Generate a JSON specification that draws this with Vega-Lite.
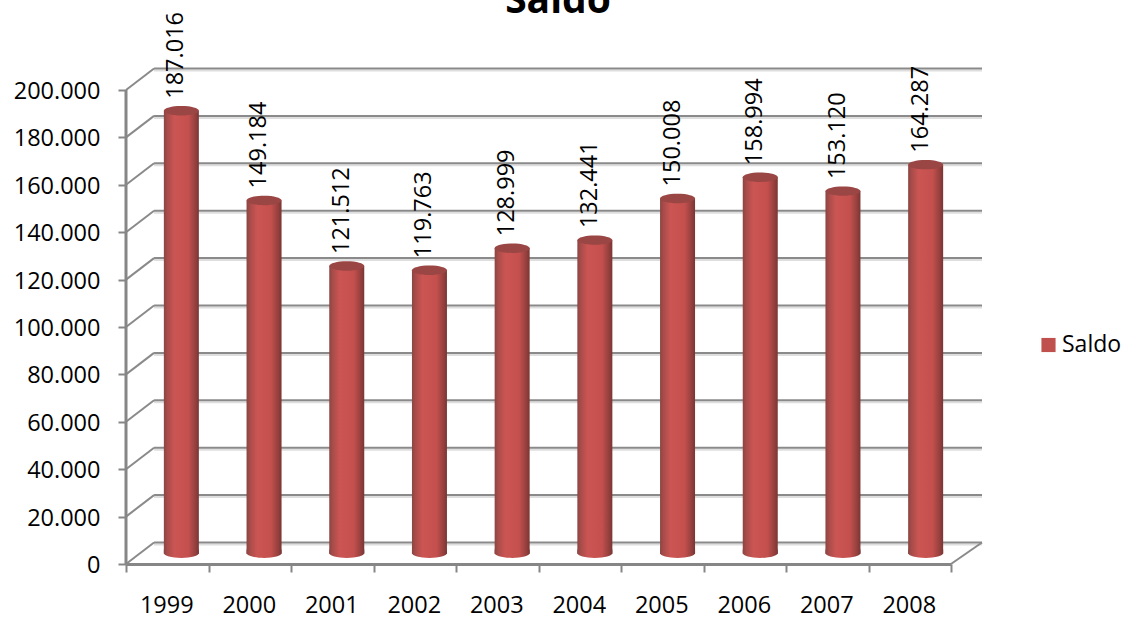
{
"$schema":"https://vega.github.io/schema/vega-lite/v6.json",
"width":856,"height":495,
"autosize":{"type":"none"},
"padding":{"left":126,"top":69,"right":152,"bottom":57},
"background":"#ffffff",
"config":{"view":{"stroke":null},"font":"Open Sans"},
"title":{"text":"Saldo","font":"Open Sans","fontSize":39,"fontWeight":"bold","color":"#000000","anchor":"middle","frame":"group","offset":-40,"dx":4,"baseline":"alphabetic"},
"datasets":{
"bars":[
{"ano":"1999","saldo":187016,"rotulo":"187.016","serie":"Saldo"},
{"ano":"2000","saldo":149184,"rotulo":"149.184","serie":"Saldo"},
{"ano":"2001","saldo":121512,"rotulo":"121.512","serie":"Saldo"},
{"ano":"2002","saldo":119763,"rotulo":"119.763","serie":"Saldo"},
{"ano":"2003","saldo":128999,"rotulo":"128.999","serie":"Saldo"},
{"ano":"2004","saldo":132441,"rotulo":"132.441","serie":"Saldo"},
{"ano":"2005","saldo":150008,"rotulo":"150.008","serie":"Saldo"},
{"ano":"2006","saldo":158994,"rotulo":"158.994","serie":"Saldo"},
{"ano":"2007","saldo":153120,"rotulo":"153.120","serie":"Saldo"},
{"ano":"2008","saldo":164287,"rotulo":"164.287","serie":"Saldo"}],
"wall":[{"back":9072},{"back":29072},{"back":49072},{"back":69072},{"back":89072},{"back":109072},{"back":129072},{"back":149072},{"back":169072},{"back":189072},{"back":209072}],
"side":[
{"a":0,"b":0.34,"v":0,"back":9072},{"a":0,"b":0.34,"v":20000,"back":29072},{"a":0,"b":0.34,"v":40000,"back":49072},{"a":0,"b":0.34,"v":60000,"back":69072},{"a":0,"b":0.34,"v":80000,"back":89072},{"a":0,"b":0.34,"v":100000,"back":109072},{"a":0,"b":0.34,"v":120000,"back":129072},{"a":0,"b":0.34,"v":140000,"back":149072},{"a":0,"b":0.34,"v":160000,"back":169072},{"a":0,"b":0.34,"v":180000,"back":189072},{"a":0,"b":0.34,"v":200000,"back":209072},
{"a":10,"b":10.376,"v":0,"back":9072}]
},
"resolve":{"scale":{"x":"independent"}},
"layer":[
{"data":{"name":"wall"},"mark":{"type":"rule","stroke":"#dedede","strokeWidth":2,"yOffset":2},
 "encoding":{"x":{"datum":0.34,"type":"quantitative","axis":null,"scale":{"domain":[0,10.376],"nice":false,"zero":false}},"x2":{"datum":10.376},"y":{"field":"back","type":"quantitative","scale":{"domain":[0,208861],"nice":false},"axis":{"values":[0,20000,40000,60000,80000,100000,120000,140000,160000,180000,200000],"labelExpr":"replace(format(datum.value,','),',','.')","title":null,"grid":false,"domain":false,"ticks":true,"tickSize":8,"tickWidth":2,"tickColor":"#868686","labelFont":"Open Sans","labelFontSize":23.5,"labelColor":"#000000","labelPadding":18,"labelOffset":1.5}}}},
{"data":{"name":"wall"},"mark":{"type":"rule","stroke":"#8a8a8a","strokeWidth":2},
 "encoding":{"x":{"datum":0.34,"type":"quantitative","axis":null,"scale":{"domain":[0,10.376],"nice":false,"zero":false}},"x2":{"datum":10.376},"y":{"field":"back","type":"quantitative"}}},
{"data":{"name":"side"},"mark":{"type":"rule","stroke":"#8a8a8a","strokeWidth":2},
 "encoding":{"x":{"field":"a","type":"quantitative","axis":null,"scale":{"domain":[0,10.376],"nice":false,"zero":false}},"x2":{"field":"b"},"y":{"field":"v","type":"quantitative"},"y2":{"field":"back"}}},
{"data":{"name":"side"},"transform":[{"filter":"datum.a==0"}],"mark":{"type":"rule","stroke":"#868686","strokeWidth":3},
 "encoding":{"x":{"datum":0,"type":"quantitative","axis":null,"scale":{"domain":[0,10.376],"nice":false,"zero":false}},"y":{"aggregate":"min","field":"v","type":"quantitative"},"y2":{"aggregate":"max","field":"v"}}},
{"data":{"name":"bars"},"mark":{"type":"bar","width":30,"xOffset":15,"yOffset":-10,"y2Offset":-11},
 "encoding":{"x":{"field":"ano","type":"nominal","scale":{"domain":["1999","2000","2001","2002","2003","2004","2005","2006","2007","2008"],"range":[0,825],"paddingInner":0,"paddingOuter":0},
   "axis":{"title":null,"labelAngle":0,"domainColor":"#868686","domainWidth":3,"tickBand":"extent","tickColor":"#868686","tickWidth":2,"tickSize":8,"labelFont":"Open Sans","labelFontSize":23.5,"labelColor":"#000000","labelPadding":21,"labelOffset":-1}},
  "y":{"field":"saldo","type":"quantitative"},
  "color":{"field":"serie","type":"nominal","scale":{"range":["#c0504d"]},"legend":{"title":null,"orient":"none","legendX":911,"legendY":264.5,"symbolType":"square","symbolSize":200,"symbolStrokeWidth":0,"labelFont":"Open Sans","labelFontSize":23,"labelColor":"#000000","labelOffset":2,"padding":0}}}},
{"data":{"name":"bars"},"mark":{"type":"point","filled":true,"opacity":1,"size":1225,"xOffset":14,"yOffset":-11,"shape":"M -1 0 A 1 0.28 0 1 0 1 0 L 1 -0.2 L -1 -0.2 Z","fill":{"x1":0,"x2":1,"y1":0,"y2":0,"gradient":"linear","stops":[{"offset":0,"color":"#8a4543"},{"offset":0.1,"color":"#a84c4a"},{"offset":0.3,"color":"#cb5553"},{"offset":0.7,"color":"#c4504e"},{"offset":0.9,"color":"#95403e"},{"offset":1,"color":"#7a3533"}]}},
 "encoding":{"x":{"field":"ano","type":"nominal","axis":null,"scale":{"domain":["1999","2000","2001","2002","2003","2004","2005","2006","2007","2008"],"range":[0,827],"paddingInner":0,"paddingOuter":0}},"y":{"datum":0,"type":"quantitative"}}},
{"data":{"name":"bars"},"mark":{"type":"bar","width":35,"xOffset":14,"yOffset":-10,"y2Offset":-11,"fill":{"x1":0,"x2":1,"y1":0,"y2":0,"gradient":"linear","stops":[{"offset":0,"color":"#8a4543"},{"offset":0.1,"color":"#a84c4a"},{"offset":0.3,"color":"#cb5553"},{"offset":0.7,"color":"#c4504e"},{"offset":0.9,"color":"#95403e"},{"offset":1,"color":"#7a3533"}]}},
 "encoding":{"x":{"field":"ano","type":"nominal","axis":null,"scale":{"domain":["1999","2000","2001","2002","2003","2004","2005","2006","2007","2008"],"range":[0,827],"paddingInner":0,"paddingOuter":0}},"y":{"field":"saldo","type":"quantitative"}}},
{"data":{"name":"bars"},"mark":{"type":"point","filled":true,"opacity":1,"size":1225,"xOffset":14,"yOffset":-10,"shape":"M -1 0 A 1 0.27 0 1 1 1 0 A 1 0.27 0 1 1 -1 0 Z","fill":"#9a4644","strokeWidth":0},
 "encoding":{"x":{"field":"ano","type":"nominal","axis":null,"scale":{"domain":["1999","2000","2001","2002","2003","2004","2005","2006","2007","2008"],"range":[0,827],"paddingInner":0,"paddingOuter":0}},"y":{"field":"saldo","type":"quantitative"}}},
{"data":{"name":"bars"},"mark":{"type":"text","angle":270,"align":"left","baseline":"middle","xOffset":9,"yOffset":-22,"font":"Open Sans","fontSize":23.5,"color":"#000000"},
 "encoding":{"x":{"field":"ano","type":"nominal","axis":null,"scale":{"domain":["1999","2000","2001","2002","2003","2004","2005","2006","2007","2008"],"range":[0,827],"paddingInner":0,"paddingOuter":0}},"y":{"field":"saldo","type":"quantitative"},"text":{"field":"rotulo","type":"nominal"}}}
]
}
